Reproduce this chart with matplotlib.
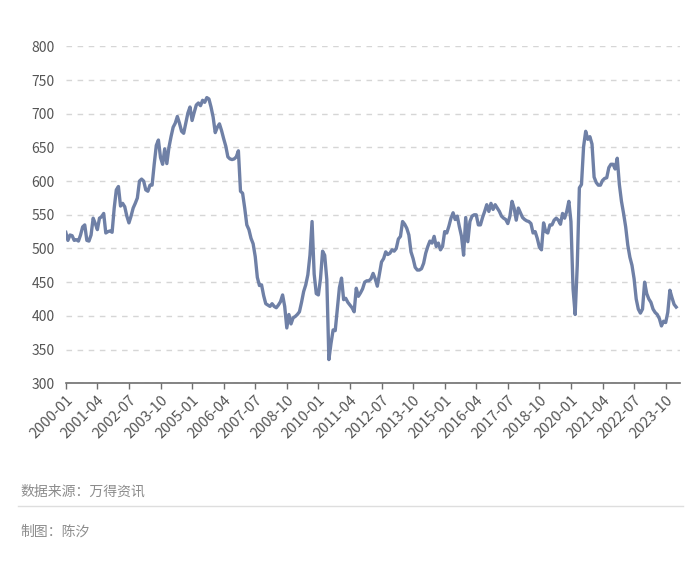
import pandas as pd
import matplotlib.pyplot as plt
from matplotlib.lines import Line2D

plt.rcParams['font.family'] = ['Noto Sans CJK SC', 'DejaVu Sans']

# monthly values
y2000 = [524, 512, 520, 519, 512, 513, 511, 520, 532, 535, 512, 511]
y2001 = [520, 545, 537, 528, 545, 547, 552, 523, 525, 526, 524, 560]
y2002 = [587, 592, 563, 567, 562, 548, 538, 548, 560, 567, 575, 600]
y2003 = [603, 600, 587, 585, 594, 594, 625, 653, 661, 635, 625, 648]
y2004 = [626, 650, 666, 680, 686, 696, 686, 674, 671, 686, 701, 710]
y2005 = [690, 702, 713, 716, 712, 720, 717, 724, 722, 710, 695, 672]
y2006 = [680, 685, 675, 663, 652, 636, 633, 632, 633, 636, 645, 585]
y2007 = [582, 560, 535, 528, 515, 507, 488, 457, 445, 446, 430, 418]
y2008 = [416, 414, 418, 414, 412, 416, 421, 431, 414, 382, 402, 388]
y2009 = [397, 399, 402, 406, 420, 436, 446, 461, 490, 540, 462, 433]
y2010 = [431, 455, 496, 490, 454, 335, 359, 379, 378, 410, 442, 456]
y2011 = [424, 426, 420, 416, 412, 406, 441, 429, 434, 440, 450, 452]
y2012 = [452, 455, 463, 455, 444, 462, 480, 485, 495, 491, 493, 498]
y2013 = [496, 500, 514, 518, 540, 536, 530, 520, 495, 485, 472, 468]
y2014 = [468, 470, 478, 493, 503, 511, 508, 518, 503, 508, 498, 503]
y2015 = [525, 523, 533, 545, 553, 543, 548, 532, 518, 490, 546, 510]
y2016 = [540, 548, 550, 550, 535, 535, 546, 555, 565, 555, 567, 558]
y2017 = [565, 560, 555, 548, 545, 543, 537, 548, 570, 560, 542, 560]
y2018 = [553, 546, 543, 541, 540, 537, 523, 525, 515, 502, 498, 538]
y2019 = [525, 523, 535, 535, 542, 545, 542, 536, 552, 545, 555, 570]
y2020 = [540, 440, 402, 475, 590, 595, 651, 674, 662, 666, 655, 606]
y2021 = [598, 594, 594, 601, 604, 605, 620, 625, 625, 618, 634, 595]
y2022 = [570, 552, 532, 505, 487, 475, 455, 425, 410, 404, 410, 450]
y2023 = [433, 425, 420, 410, 405, 402, 396, 385, 392, 390, 405, 438]
y2024 = [427, 417, 413]

values = (y2000 + y2001 + y2002 + y2003 + y2004 + y2005 + y2006 + y2007
          + y2008 + y2009 + y2010 + y2011 + y2012 + y2013 + y2014 + y2015
          + y2016 + y2017 + y2018 + y2019 + y2020 + y2021 + y2022 + y2023
          + y2024)
months = pd.date_range('2000-01-01', periods=len(values), freq='MS').strftime('%Y-%m')
x = list(range(len(values)))

fig = plt.figure(figsize=(7, 5.66), dpi=100)
ax = fig.add_axes([0.094, 0.323, 0.878, 0.595])

ax.plot(x, values, color='#6f80a6', lw=2.4, solid_joinstyle='round')

ax.set_ylim(300, 800)
ax.set_yticks(range(300, 801, 50))
ax.set_xlim(0, len(values) + 1)
ticks = x[::15]
ax.set_xticks(ticks)
ax.set_xticklabels([months[i] for i in ticks], rotation=45, ha='right',
                   rotation_mode='anchor')

ax.grid(axis='y', color='#d6d6d6', lw=1, ls=(0, (4, 4)))
ax.set_axisbelow(True)
for s in ['left', 'right', 'top']:
    ax.spines[s].set_visible(False)
ax.spines['bottom'].set_color('#6e6e6e')
ax.spines['bottom'].set_linewidth(1.2)
ax.tick_params(axis='y', length=0, pad=8, labelsize=10, labelcolor='#555555')
ax.tick_params(axis='x', length=4, width=1, color='#6e6e6e', pad=3,
               labelsize=10.5, labelcolor='#555555')

fig.text(20 / 700, 1 - 492 / 566, '数据来源：万得资讯', fontsize=10,
         color='#8c8c8c', va='center')
fig.add_artist(Line2D([18 / 700, 683 / 700], [1 - 506 / 566] * 2,
                      color='#dedede', lw=1))
fig.text(20 / 700, 1 - 532 / 566, '制图：陈汐', fontsize=10,
         color='#8c8c8c', va='center')

fig.savefig('out.png', dpi=100)
